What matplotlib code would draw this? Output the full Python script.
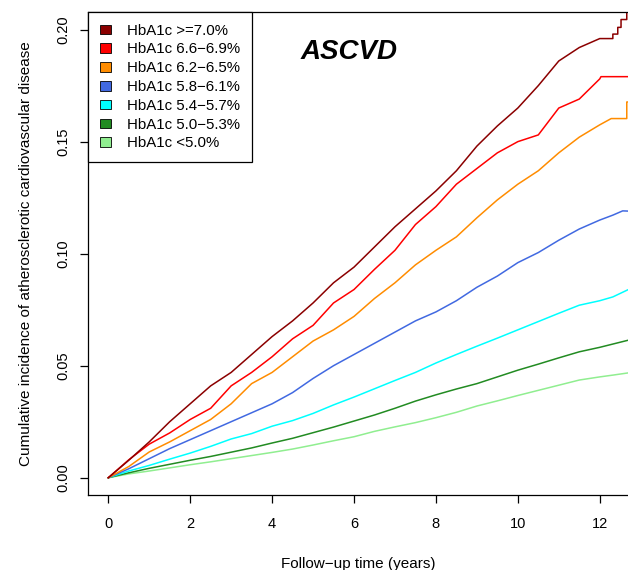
import matplotlib
matplotlib.use("Agg")
import matplotlib.pyplot as plt
from matplotlib.patches import Patch

plt.rcParams['font.family'] = ['Liberation Sans', 'DejaVu Sans']

# follow-up time (years) at which each curve was read
t_grid = [0, 0.5, 1, 1.5, 2, 2.5, 3, 3.5, 4, 4.5, 5, 5.5, 6, 6.5, 7, 7.5,
          8, 8.5, 9, 9.5, 10, 10.5, 11, 11.5, 12]

labels = ["HbA1c >=7.0%", "HbA1c 6.6\u22126.9%", "HbA1c 6.2\u22126.5%",
          "HbA1c 5.8\u22126.1%", "HbA1c 5.4\u22125.7%", "HbA1c 5.0\u22125.3%",
          "HbA1c <5.0%"]
colors = ["#8B0000", "#FF0000", "#FF8C00", "#4169E1", "#00FFFF",
          "#228B22", "#90EE90"]

# cumulative incidence, one list per HbA1c group (values on t_grid),
# followed by the tail points read near the end of follow-up
ge70 = [0, 0.0078, 0.016, 0.025, 0.033, 0.041, 0.047, 0.055, 0.063, 0.070,
        0.078, 0.087, 0.094, 0.103, 0.112, 0.120, 0.128, 0.137, 0.148, 0.157,
        0.165, 0.175, 0.186, 0.192, 0.196]
ge70_tail_t = [12.32, 12.32, 12.44, 12.44, 12.52, 12.52, 12.66, 12.66, 12.7]
ge70_tail_v = [0.196, 0.198, 0.198, 0.201, 0.201, 0.2045, 0.2045, 0.208, 0.208]

r66 = [0, 0.008, 0.015, 0.020, 0.026, 0.031, 0.041, 0.047, 0.054, 0.062,
       0.068, 0.078, 0.084, 0.093, 0.1015, 0.113, 0.121, 0.131, 0.138, 0.145,
       0.150, 0.153, 0.165, 0.169, 0.178]
r66_tail_t = [12.03, 12.7]
r66_tail_v = [0.179, 0.179]

r62 = [0, 0.005, 0.0115, 0.016, 0.021, 0.026, 0.033, 0.042, 0.047, 0.054,
       0.061, 0.066, 0.072, 0.080, 0.087, 0.095, 0.1015, 0.1075, 0.116, 0.124,
       0.131, 0.137, 0.145, 0.152, 0.1575]
r62_tail_t = [12.28, 12.66, 12.66, 12.7]
r62_tail_v = [0.1603, 0.1603, 0.1677, 0.1677]

r58 = [0, 0.004, 0.0085, 0.013, 0.017, 0.021, 0.025, 0.029, 0.033, 0.038,
       0.0443, 0.050, 0.055, 0.060, 0.065, 0.070, 0.074, 0.079, 0.085, 0.090,
       0.096, 0.1005, 0.106, 0.111, 0.115]
r58_tail_t = [12.32, 12.56, 12.7]
r58_tail_v = [0.1172, 0.1191, 0.119]

r54 = [0, 0.003, 0.0055, 0.0083, 0.011, 0.014, 0.0173, 0.0197, 0.023, 0.0255,
       0.0287, 0.0325, 0.036, 0.0397, 0.0434, 0.047, 0.0512, 0.055, 0.0587,
       0.0623, 0.066, 0.0697, 0.0734, 0.077, 0.079]
r54_tail_t = [12.32, 12.7]
r54_tail_v = [0.0807, 0.084]

r50 = [0, 0.0022, 0.0042, 0.006, 0.0078, 0.0095, 0.0114, 0.0133, 0.0155,
       0.0176, 0.0201, 0.0226, 0.0253, 0.028, 0.031, 0.0342, 0.037, 0.0396,
       0.042, 0.045, 0.048, 0.0507, 0.0535, 0.0562, 0.0582]
r50_tail_t = [12.7]
r50_tail_v = [0.0614]

lt50 = [0, 0.0017, 0.003, 0.0044, 0.0058, 0.0071, 0.0085, 0.0099, 0.0113,
        0.0128, 0.0146, 0.0165, 0.0183, 0.0207, 0.0227, 0.0246, 0.0268, 0.0292,
        0.032, 0.0343, 0.0367, 0.039, 0.0413, 0.0436, 0.045]
lt50_tail_t = [12.32, 12.7]
lt50_tail_v = [0.0458, 0.0468]

series = [(ge70, ge70_tail_t, ge70_tail_v), (r66, r66_tail_t, r66_tail_v),
          (r62, r62_tail_t, r62_tail_v), (r58, r58_tail_t, r58_tail_v),
          (r54, r54_tail_t, r54_tail_v), (r50, r50_tail_t, r50_tail_v),
          (lt50, lt50_tail_t, lt50_tail_v)]

fig = plt.figure(figsize=(6.28, 5.70), dpi=100)
ax = fig.add_axes([0.1406, 0.1316, 0.8594, 0.8479])

# draw lowest group first so the top curves sit on top
for (vals, tt, tv), col in reversed(list(zip(series, colors))):
    ax.plot(list(t_grid) + tt, vals + tv, color=col, lw=1.1)

ax.set_xlim(-0.488, 12.69)
ax.set_ylim(-0.0077, 0.208)
ax.set_xticks([0, 2, 4, 6, 8, 10, 12])
ax.set_yticks([0.0, 0.05, 0.10, 0.15, 0.20])
ax.set_yticklabels(["0.00", "0.05", "0.10", "0.15", "0.20"], rotation=90,
                   va="center")
ax.tick_params(length=6, width=0.9, labelsize=10.5, color="black")
ax.tick_params(axis="x", pad=10)
ax.tick_params(axis="y", pad=7)
ax.spines["right"].set_visible(False)
for s in ["left", "bottom", "top"]:
    ax.spines[s].set_linewidth(0.9)

ax.set_xlabel("Follow\u2212up time (years)", fontsize=11, labelpad=18.5)
ax.set_ylabel("Cumulative incidence of atherosclerotic cardiovascular disease",
              fontsize=11, labelpad=16.5)

ax.text(5.87, 0.19, "ASCVD", fontsize=20, fontweight="bold",
        fontstyle="italic", ha="center", va="center")

handles = [Patch(facecolor=c, edgecolor="black", linewidth=0.6) for c in colors]
leg = ax.legend(handles, labels, loc="upper left", bbox_to_anchor=(0, 1),
                borderaxespad=0, fontsize=10.8, handlelength=0.72,
                handleheight=0.6, handletextpad=1.05, labelspacing=0.32,
                borderpad=0.8, fancybox=False, framealpha=1,
                edgecolor="black")
leg.get_frame().set_linewidth(0.9)

fig.savefig("out.png", dpi=100)
